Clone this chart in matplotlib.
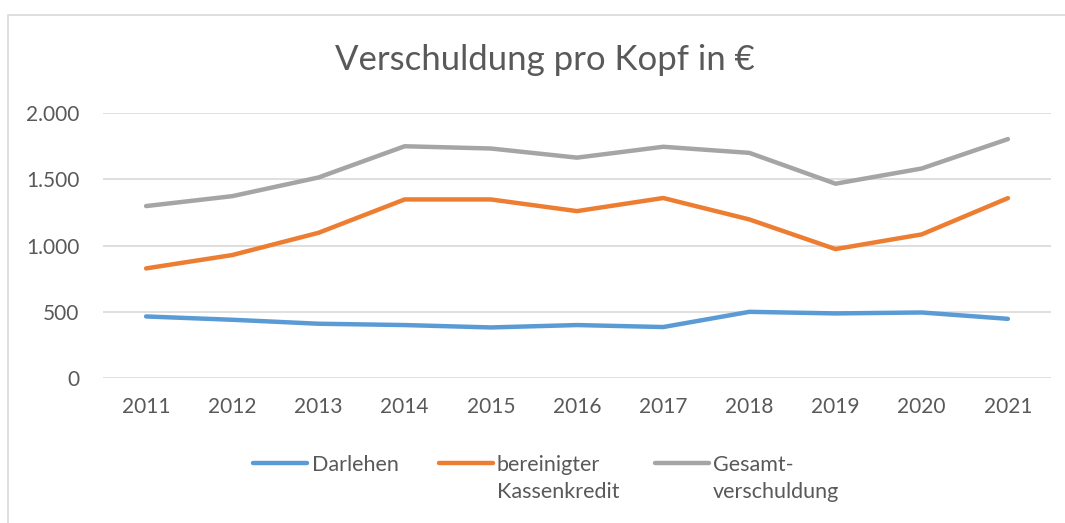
import matplotlib.pyplot as plt
from matplotlib.lines import Line2D
from matplotlib.patches import Rectangle
from matplotlib.ticker import FuncFormatter

years = ["2011", "2012", "2013", "2014", "2015", "2016",
         "2017", "2018", "2019", "2020", "2021"]
darlehen = [465, 440, 410, 400, 382, 400, 385, 500, 488, 495, 447]
kassenkredit = [828, 929, 1097, 1349, 1349, 1261, 1360, 1198, 974, 1085, 1359]
gesamt = [1299, 1374, 1515, 1751, 1734, 1665, 1747, 1701, 1468, 1583, 1805]

labels = [["Darlehen"], ["bereinigter", "Kassenkredit"], ["Gesamt-", "verschuldung"]]
colors = ["#5B9BD5", "#ED7D31", "#A5A5A5"]
text_color = "#595959"
grid_color = "#D9D9D9"

plt.rcParams["font.family"] = ["Lato", "DejaVu Sans"]

W, H = 1065, 523
fig = plt.figure(figsize=(W / 100, H / 100), dpi=100)
ax = fig.add_axes([103 / W, 1 - 378 / H, (1051 - 103) / W, (378 - 113.3) / H])

x = list(range(len(years)))
for vals, c in zip([darlehen, kassenkredit, gesamt], colors):
    ax.plot(x, vals, color=c, lw=3.2, solid_capstyle="round",
            solid_joinstyle="round", zorder=3)

ax.set_xlim(-0.5, len(years) - 0.5)
ax.set_ylim(0, 2000)
ax.set_yticks([0, 500, 1000, 1500, 2000])
ax.yaxis.set_major_formatter(FuncFormatter(lambda v, p: f"{int(v):,}".replace(",", ".")))
ax.set_xticks(x)
ax.set_xticklabels(years)
ax.grid(axis="y", color=grid_color, lw=1.2, zorder=0)
for s in ax.spines.values():
    s.set_visible(False)
ax.tick_params(axis="y", length=0, pad=17, labelsize=15, labelcolor=text_color)
ax.tick_params(axis="x", length=0, pad=14, labelsize=15, labelcolor=text_color)

fig.text(545 / W, 1 - 60 / H, "Verschuldung pro Kopf in €", ha="center",
         va="center", fontsize=25, color=text_color)

# legend drawn by hand so the handle sits on the first text line
leg_x = [(253, 312), (439, 497), (655, 713)]
for (hx, tx), c, lines in zip(leg_x, colors, labels):
    y0 = 1 - 463 / H
    fig.add_artist(Line2D([hx / W, (hx + 54) / W], [y0, y0], color=c, lw=3.2,
                          solid_capstyle="round", transform=fig.transFigure))
    for i, line in enumerate(lines):
        fig.text(tx / W, 1 - (471 + 27.5 * i) / H, line, ha="left",
                 va="baseline", fontsize=15.5, color=text_color)

# chart area border
fig.add_artist(Rectangle((8 / W, -0.1), 1.2, 1.1 - 15 / H, fill=False,
                         edgecolor=grid_color, lw=1.2, transform=fig.transFigure))

fig.savefig("out.png", dpi=100)
